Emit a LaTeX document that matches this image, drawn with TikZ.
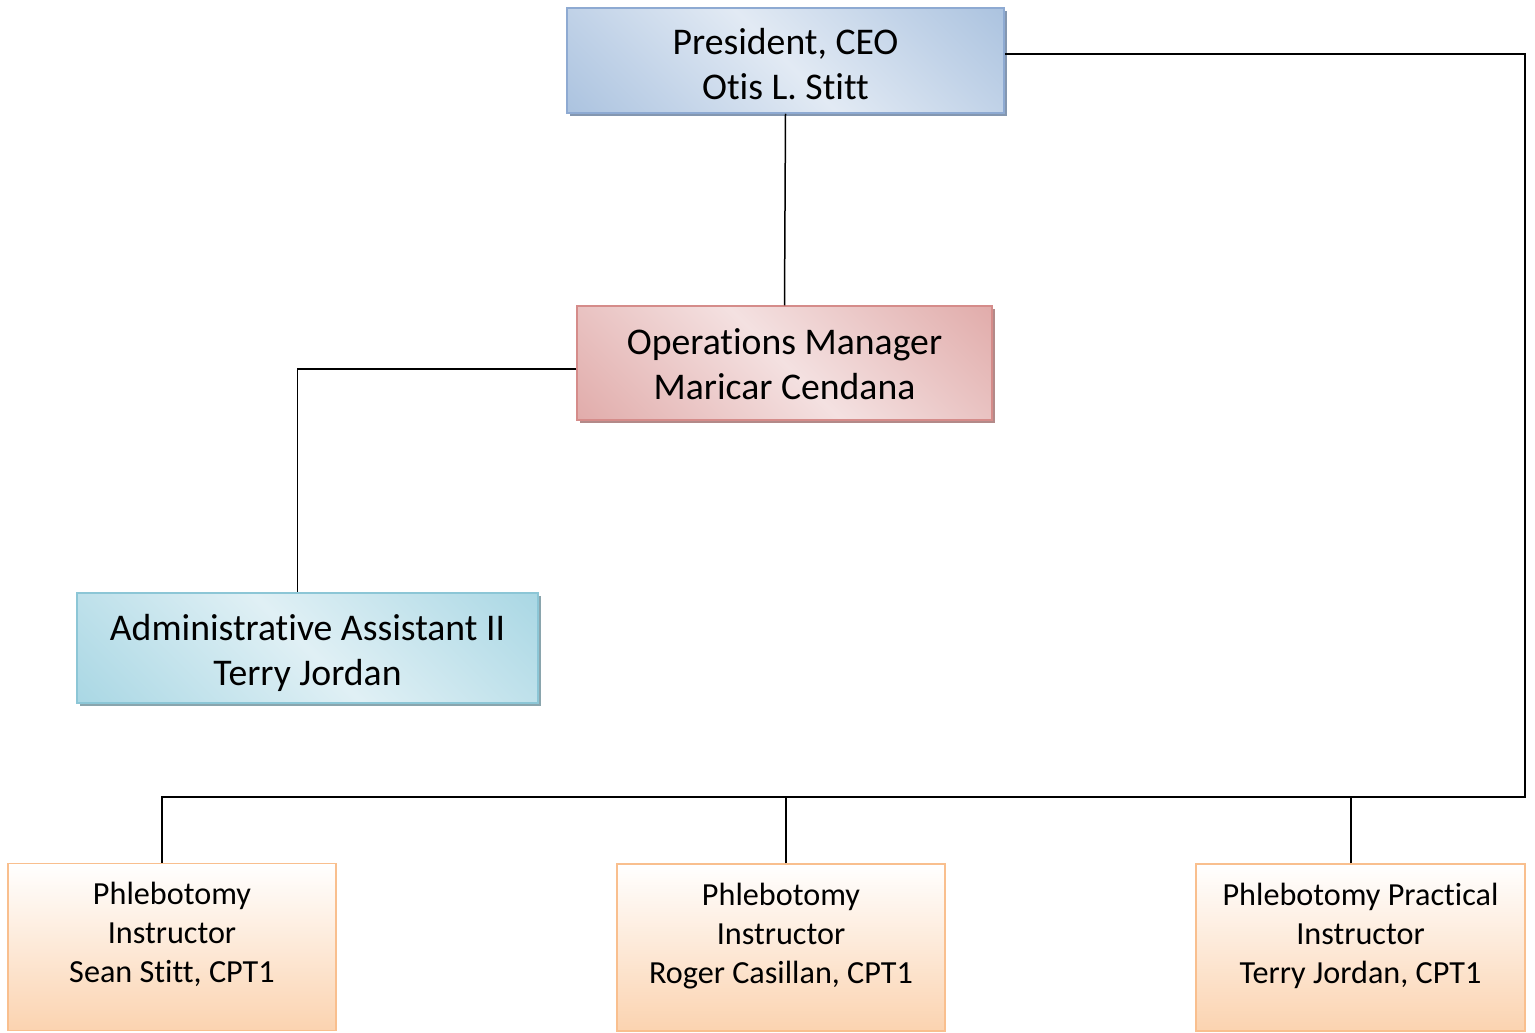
\documentclass[tikz,border=0pt]{standalone}
\usepackage{fontspec}
\setmainfont[Ligatures=NoCommon]{Carlito}
\usetikzlibrary{shadows}

\definecolor{presdark}{HTML}{95B3D7}
\definecolor{preslight}{HTML}{E2EAF4}
\definecolor{presline}{HTML}{8EAAD2}
\definecolor{presshadow}{HTML}{8497B0}
\definecolor{opsdark}{HTML}{D99694}
\definecolor{opslight}{HTML}{F4E1E1}
\definecolor{opsline}{HTML}{D58C8A}
\definecolor{opsshadow}{HTML}{B38A89}
\definecolor{admindark}{HTML}{93CDDD}
\definecolor{adminlight}{HTML}{E0F0F5}
\definecolor{adminline}{HTML}{8CC6D6}
\definecolor{adminshadow}{HTML}{8AA5AD}
\definecolor{phlebdark}{HTML}{FBD3B0}
\definecolor{phlebline}{HTML}{F9BF8E}

% diagonal shadings: dark corners, light middle
\pgfdeclarehorizontalshading{presshade}{100bp}{color(0bp)=(presdark); color(50bp)=(preslight); color(100bp)=(presdark)}
\pgfdeclarehorizontalshading{opsshade}{100bp}{color(0bp)=(opsdark); color(50bp)=(opslight); color(100bp)=(opsdark)}
\pgfdeclarehorizontalshading{adminshade}{100bp}{color(0bp)=(admindark); color(50bp)=(adminlight); color(100bp)=(admindark)}

\tikzset{
  orgbox/.style={draw, line width=1.5pt, inner sep=0pt, shade, shading angle=45,
    font=\fontsize{37.7}{45.5}\selectfont},
  presbox/.style={orgbox, draw=presline, shading=presshade,
    drop shadow={shadow xshift=3pt, shadow yshift=-3pt, fill=presshadow, opacity=1}},
  opsbox/.style={orgbox, draw=opsline, shading=opsshade,
    drop shadow={shadow xshift=3pt, shadow yshift=-3pt, fill=opsshadow, opacity=1}},
  adminbox/.style={orgbox, draw=adminline, shading=adminshade,
    drop shadow={shadow xshift=3pt, shadow yshift=-3pt, fill=adminshadow, opacity=1}},
  phlebbox/.style={draw=phlebline, line width=1.5pt, top color=white, bottom color=phlebdark,
    inner sep=0pt, minimum width=328pt, minimum height=167pt,
    font=\fontsize{32.2}{39}\selectfont},
  conn/.style={line width=1.5pt, black}
}

\newcommand{\raised}[2][5pt]{\raisebox{#1}[0pt][0pt]{\begin{tabular}{@{}c@{}}#2\end{tabular}}}

\begin{document}
\begin{tikzpicture}[x=1pt,y=-1pt]
\useasboundingbox (0,0) rectangle (1535,1033);

% Boxes
\node [presbox, minimum width=437pt, minimum height=105pt] (pres) at (785.5,60.5)
  {\raised[-13.5pt]{President, CEO\\Otis L. Stitt}};
\node [opsbox, minimum width=415pt, minimum height=114pt] (ops) at (784.5,363)
  {\raised[-11pt]{Operations Manager\\Maricar Cendana}};
\node [adminbox, minimum width=461pt, minimum height=110pt] (admin) at (307.5,648)
  {\raised[-12pt]{Administrative Assistant II\\Terry Jordan}};

\node [phlebbox] (phlebA) at (172,947) {\raised{Phlebotomy\\Instructor\\Sean Stitt, CPT1}};
\node [phlebbox] (phlebB) at (781,947.5) {\raised{Phlebotomy\\Instructor\\Roger Casillan, CPT1}};
\node [phlebbox, minimum width=329pt] (phlebC) at (1360.5,947.5) {\raised{Phlebotomy Practical\\Instructor\\Terry Jordan, CPT1}};

% Lines
\coordinate (busR) at (1525,797);

\draw [conn] (pres.south) -- (ops.north);
\draw [conn] ([yshift=-6pt]ops.west) -| ([xshift=-10pt]admin.north);
\draw [conn] ([yshift=6.5pt]pres.east) -| (busR) -| ([xshift=-10pt]phlebA.north);
\draw [conn] ([xshift=5pt]phlebB.north) -- ([xshift=5pt]phlebB.north |- busR);
\draw [conn] ([xshift=-9.5pt]phlebC.north) -- ([xshift=-9.5pt]phlebC.north |- busR);
\end{tikzpicture}
\end{document}
